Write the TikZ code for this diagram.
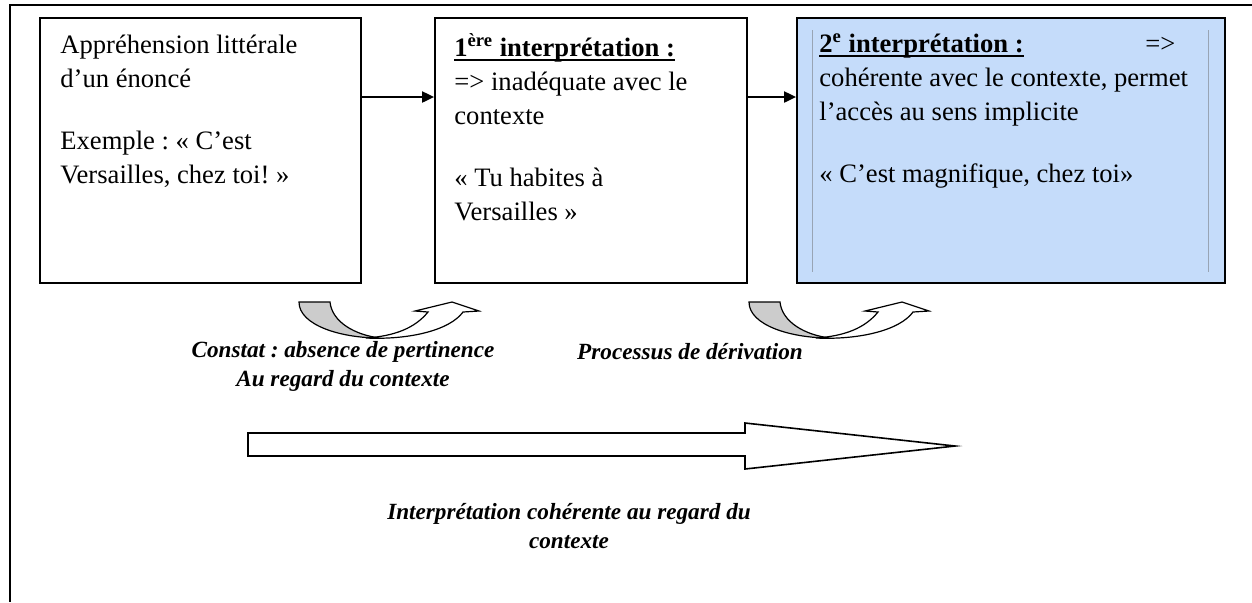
\documentclass[tikz,border=0pt]{standalone}
\usepackage{fontspec}
\setmainfont{Liberation Serif}
\usepackage{tikz}
\usetikzlibrary{positioning, arrows.meta, calc}
\definecolor{tikzBlue}{HTML}{C5DCFA}
\definecolor{tikzRule}{HTML}{98A4B4}
\definecolor{tikzBend}{HTML}{CCCCCC}
\tikzstyle{stageBox} =[draw, line width=0.9pt, inner sep=0pt, minimum height=132.5pt]
\tikzstyle{boxText} =[anchor=north west, inner sep=0pt, align=left, font=\fontsize{13.3}{17}\selectfont]
\tikzstyle{labelText} =[inner sep=0pt, align=center, font=\fontsize{11.6}{14.5}\selectfont\bfseries\itshape]
\newcommand{\ulTitle}[1]{\setbox0\hbox{#1}\rlap{\rule[-2.1pt]{\wd0}{0.8pt}}\box0}
\lineskiplimit=-20pt
\frenchspacing

\begin{document}
\begin{tikzpicture}[x=0.5pt, y=-0.5pt]
\useasboundingbox (0,0) rectangle (1252,602);

%frame
\draw[line width=1.1pt] (1252,5) -- (10,5) -- (10,602);

\node (litBox) [stageBox, minimum width=160.5pt] at (200.5,150.5) {};
\node (firstBox) [stageBox, minimum width=156pt] at (591,150.5) {};
\node (secondBox) [stageBox, minimum width=214pt, fill=tikzBlue] at (1011,150.5) {};

\draw[tikzRule, line width=0.5pt] (812,30) -- (812,272);
\draw[tikzRule, line width=0.5pt] (1208,30) -- (1208,272);

\node (litText) [boxText] at (60,35) {Appréhension littérale\\d’un énoncé\\[14pt]Exemple : « C’est\\Versailles, chez toi! »};

\node (firstText) [boxText] at (454,33) {\ulTitle{\textbf{1\textsuperscript{ère} interprétation :}}\\=> inadéquate avec le\\contexte\\[14pt]« Tu habites à\\Versailles »};

\node (secondText) [boxText] at (819,33) {\makebox[178pt][l]{\ulTitle{\textbf{2\textsuperscript{e} interprétation :}}\hfill=>}\\cohérente avec le contexte, permet\\l’accès au sens implicite\\[14pt]« C’est magnifique, chez toi»};

\draw[-{Triangle[length=6pt, width=5.5pt]}, line width=1pt] (litBox.east |- 0,97) -- (firstBox.west |- 0,97);
\draw[-{Triangle[length=6pt, width=5.5pt]}, line width=1pt] (firstBox.east |- 0,97) -- (secondBox.west |- 0,97);

%bent arrows
\filldraw[fill=tikzBend, line width=0.6pt] (299,302) -- (330,302) .. controls (332,322) and (355,335) .. (380,338) .. controls (340,338) and (299,325) .. (299,302) -- cycle;
\filldraw[fill=white, line width=0.6pt] (366,338) .. controls (410,340) and (450,330) .. (463,312) -- (479,311) -- (452,302) -- (415,311) -- (428,312) .. controls (415,328) and (395,336) .. (366,338) -- cycle;

\filldraw[shift={(450,0)}, fill=tikzBend, line width=0.6pt] (299,302) -- (330,302) .. controls (332,322) and (355,335) .. (380,338) .. controls (340,338) and (299,325) .. (299,302) -- cycle;
\filldraw[shift={(450,0)}, fill=white, line width=0.6pt] (366,338) .. controls (410,340) and (450,330) .. (463,312) -- (479,311) -- (452,302) -- (415,311) -- (428,312) .. controls (415,328) and (395,336) .. (366,338) -- cycle;

\node (constatLabel) [labelText] at (343,366.5) {Constat : absence de pertinence\\Au regard du contexte};
\node (derivLabel) [labelText] at (690,352) {Processus de dérivation};

%big arrow
\draw[line width=0.8pt] (248,433) -- (745,433) -- (745,423) -- (955,446) -- (745,469) -- (745,456) -- (248,456) -- cycle;

\node (coherLabel) [labelText] at (569,526.5) {Interprétation cohérente au regard du\\contexte};

\end{tikzpicture}
\end{document}
